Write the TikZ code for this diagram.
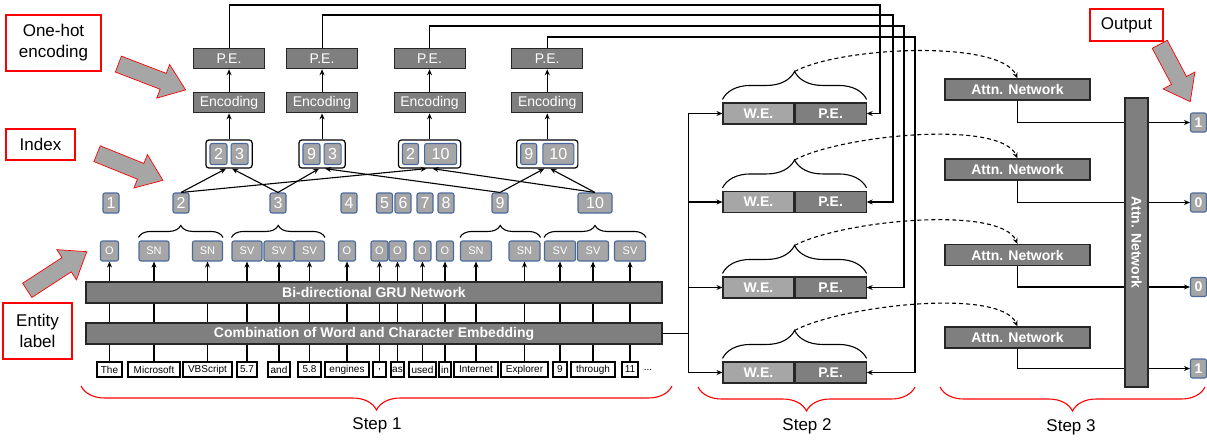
\documentclass[tikz,border=0pt]{standalone}
\usepackage{fontspec}
\setmainfont{Liberation Sans}
\usetikzlibrary{positioning,fit,arrows.meta,decorations.pathreplacing}

\definecolor{darkfill}{HTML}{7F7F7F}
\definecolor{lightfill}{HTML}{A6A6A6}
\definecolor{tagblue}{HTML}{4A6A9E}

\tikzset{
  word/.style={draw, fill=white, inner xsep=1pt, inner ysep=0pt, minimum height=15pt, font=\fontsize{10}{11}\selectfont},
  tag/.style={draw=tagblue, fill=lightfill, rounded corners=2pt, text=white, inner sep=1pt, minimum height=20pt, font=\fontsize{11}{12}\selectfont},
  idx/.style={tag, minimum width=16pt, font=\fontsize{16}{17}\selectfont},
  pairnum/.style={idx, minimum height=21pt},
  pairbox/.style={draw, rounded corners=3pt, line width=1.2pt, inner xsep=3.5pt, inner ysep=3pt},
  darkbox/.style={draw=black!85, fill=darkfill, text=white, minimum width=71pt, minimum height=20pt, inner sep=0pt, font=\fontsize{14}{15}\selectfont},
  bar/.style={darkbox, minimum width=576pt, minimum height=21pt, font=\fontsize{14}{15}\selectfont\bfseries},
  wecell/.style={darkbox, fill=lightfill, minimum height=21pt, font=\fontsize{14}{15}\selectfont\bfseries},
  pecell/.style={darkbox, minimum height=21pt, font=\fontsize{14}{15}\selectfont\bfseries},
  attn/.style={darkbox, minimum width=145pt, minimum height=21pt, font=\fontsize{14}{15}\selectfont\bfseries},
  outbox/.style={tag, minimum width=16pt, minimum height=19pt, font=\fontsize{14}{15}\selectfont\bfseries},
  note/.style={draw=red, fill=white, align=center, inner sep=2pt, font=\fontsize{17}{21}\selectfont},
  steptext/.style={font=\fontsize{17}{20}\selectfont},
  lbrace/.style={decorate, decoration={brace, amplitude=#1}},
  stepbrace/.style={draw=red, line width=1.1pt, decorate, decoration={brace, mirror, amplitude=24pt}},
  dashlink/.style={dash pattern=on 4pt off 3pt, ->},
  pics/bigarrow/.style={code={
    \draw[draw=red, fill=lightfill, line width=0.7pt] (-#1/2,-8.5) -- (#1/2-24,-8.5) -- (#1/2-24,-18)
      -- (#1/2,0) -- (#1/2-24,18) -- (#1/2-24,8.5) -- (-#1/2,8.5) -- cycle;
  }}
}

\begin{document}
\begin{tikzpicture}[x=1pt, y=-1pt, line width=1.1pt, >={Stealth[length=6pt,width=5pt]}]
\useasboundingbox (0,0) rectangle (1207,439);

\node (onehot) [note, minimum width=95pt, minimum height=56pt] at (53.5,43) {One-hot\\encoding};
\node (index) [note, minimum width=69pt, minimum height=31pt] at (40.5,144.5) {Index};
\node (entity) [note, minimum width=69pt, minimum height=56pt] at (37.5,331) {Entity\\label};
\node (output) [note, minimum width=73pt, minimum height=32pt] at (1126.5,25) {Output};
\pic[rotate=-21] at (152,77) {bigarrow=72};
\pic[rotate=-22] at (130,167) {bigarrow=71};
\pic[rotate=33] at (57,271) {bigarrow=71};
\pic[rotate=-62] at (1175,73) {bigarrow=65};

\foreach \x/\ww/\tx/\lb/\lw [count=\i] in {109.5/25/The/O/18, 154/52/Microsoft/SN/30, 207.5/49/VBScript/SN/30,
    247/20/5.7/SV/30, 279/22/and/SV/30, 309.5/23/5.8/SV/30, 347/44/engines/O/17, 379.5/13/{,}/O/17,
    397.5/13/as/O/17, 422.5/27/used/O/17, 445/12/in/O/17, 476/44/Internet/SN/31, 524.5/47/Explorer/SN/31,
    560/14/9/SV/31, 593/44/through/SV/31, 630/16/11/SV/31} {
  \node (t\i) [word, minimum width=\ww pt] at (\x,369.5) {\tx};
  \node (tag\i) [tag, minimum width=\lw pt] at (\x,251) {\lb};
  \draw[->] (t\i.north) -- (tag\i.south);
}
\node (more) [font=\fontsize{10}{11}\selectfont] at (648,370) {...};
\node (gru) [bar] at (374,292.5) {Bi-directional GRU Network};
\node (comb) [bar] at (374,333.5) {Combination of Word and Character Embedding};

\draw[lbrace=12pt] ([yshift=3pt]tag2.north west) -- ([yshift=3pt]tag3.north east);
\draw[lbrace=12pt] ([yshift=3pt]tag4.north west) -- ([yshift=3pt]tag6.north east);
\draw[lbrace=12pt] ([yshift=3pt]tag12.north west) -- ([yshift=3pt]tag13.north east);
\draw[lbrace=12pt] ([yshift=3pt]tag14.north west) -- ([yshift=3pt]tag16.north east);

\foreach \x/\n/\ww in {111/1/16, 181/2/16, 278/3/16, 349/4/16, 384.5/5/16, 403/6/16, 425/7/16, 446/8/16, 500/9/16, 595/10/34}
  \node (i\n) [idx, minimum width=\ww pt] at (\x,203) {\n};

\foreach \i/\x/\na/\nb/\wa/\wb/\g in {1/218.5/2/3/17/17/3, 2/311.5/9/3/17/17/3, 3/410.5/2/10/16/32/5, 4/528.7/9/10/16/31/5} {
  \node (p\i-a) [pairnum, minimum width=\wa pt] at (\x,154) {\na};
  \node (p\i-b) [pairnum, minimum width=\wb pt, right=\g pt of p\i-a] {\nb};
  \node (p\i) [pairbox, fit=(p\i-a)(p\i-b)] {};
  \node (enc\i) [darkbox, above=26pt of p\i] {Encoding};
  \node (pos\i) [darkbox, above=23pt of enc\i] {P.E.};
  \draw[->] (p\i) to (enc\i);
  \draw[->] (enc\i) to (pos\i);
}
\foreach \a/\b/\s in {2/1/-3, 3/1/3, 3/2/-3, 9/2/3, 2/3/-3, 10/3/3, 9/4/-3, 10/4/3}
  \draw[->] (i\a.north) -- ([xshift=\s pt]p\b.south);

\foreach \y [count=\i] in {113.5,202,287.5,372.5} {
  \node (we\i) [wecell] at (758.5,\y) {W.E.};
  \node (pe\i) [pecell, right=0pt of we\i] {P.E.};
  \draw[->] (comb.east) -- ++(26,0) |- (we\i.west);
  \draw[lbrace=28pt] ([yshift=3pt]we\i.north west) -- ([yshift=3pt]pe\i.north east);
  \coordinate (tip\i) at ([yshift=31pt]we\i.north east);
}
\foreach \i/\x/\y in {1/880/5, 2/893/15, 3/904/26, 4/915/37}
  \draw[->] (pos\i.north) |- (\x,\y) |- (pe\i.east);

\foreach \y [count=\i] in {89.5,169.5,255,337.5} {
  \node (attn\i) [attn] at (1017.5,\y) {Attn. Network};
  \draw[dashlink] (tip\i) .. controls +(47,-25) and +(-17,-39) .. (attn\i.north);
}
\foreach \y/\v [count=\i] in {122.5/1, 202.5/0, 287/0, 368.5/1} {
  \node (out\i) [outbox] at (1198.5,\y) {\v};
  \draw[->] (attn\i.south) |- (out\i.west);
}
\node (attnbar) [bar, minimum width=289pt, minimum height=23pt, rotate=-90] at (1136.5,242.5) {Attn. Network};

\draw[stepbrace] (81,386) -- (672,386);
\draw[stepbrace] (698,387) -- (915,387);
\draw[stepbrace] (940,387) -- (1205,387);
\node (step1) [steptext] at (377,425) {Step 1};
\node (step2) [steptext] at (807,426) {Step 2};
\node (step3) [steptext] at (1071,427) {Step 3};
\end{tikzpicture}
\end{document}
